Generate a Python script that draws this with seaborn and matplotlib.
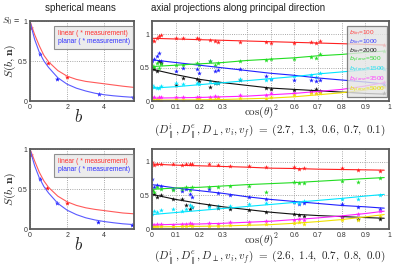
import matplotlib
matplotlib.use("Agg")
import matplotlib.pyplot as plt
from matplotlib.lines import Line2D
import seaborn as sns

sns.set_style("whitegrid", {"grid.linestyle": ":", "grid.color": "#8c8c8c",
                            "axes.edgecolor": "#5a5a5a"})
plt.rcParams['font.family'] = ['Liberation Sans', 'DejaVu Sans']
plt.rcParams['mathtext.fontset'] = 'cm'

# ---- spherical means (left panels) ----
b_curve = [0, 0.1, 0.25, 0.5, 0.75, 1, 1.5, 2, 2.5, 3, 3.5, 4, 4.5, 5, 5.6]
lin_curve_top = [1, 0.93, 0.83, 0.69, 0.57, 0.49, 0.38, 0.31, 0.27, 0.245, 0.23, 0.215, 0.2, 0.185, 0.17]
pla_curve_top = [1, 0.9, 0.77, 0.61, 0.5, 0.42, 0.29, 0.21, 0.16, 0.125, 0.097, 0.078, 0.065, 0.055, 0.045]
lin_curve_bot = [1, 0.94, 0.85, 0.71, 0.6, 0.52, 0.41, 0.34, 0.295, 0.265, 0.245, 0.23, 0.215, 0.2, 0.19]
pla_curve_bot = [1, 0.91, 0.79, 0.64, 0.53, 0.45, 0.32, 0.235, 0.18, 0.14, 0.113, 0.093, 0.078, 0.065, 0.055]

lin_b_top = [0.05, 0.97, 2.0]
lin_s_top = [0.91, 0.48, 0.305]
pla_b_top = [0.54, 1.48, 3.73, 5.53]
pla_s_top = [0.59, 0.28, 0.084, 0.046]
lin_b_bot = [0.05, 0.94, 1.97]
lin_s_bot = [0.93, 0.51, 0.33]
pla_b_bot = [0.54, 1.46, 3.66, 5.5]
pla_s_bot = [0.625, 0.32, 0.09, 0.05]

# ---- axial projections (right panels) ----
series_names = ['$b_{lin}$=100', '$b_{lin}$=1000', '$b_{lin}$=2000', '$b_{plane}$=500',
                '$b_{plane}$=1500', '$b_{plane}$=3500', '$b_{plane}$=5000']
series_colors = ['#ff2020', '#2020ff', '#111111', '#22dd22', '#00e5ff', '#ff20ff', '#f0e000']
legend_colors = ['#ff4040', '#4040ff', '#222222', '#33dd33', '#20e0f0', '#ff40ff', '#e8e000']

x_line = [0, 0.1, 0.2, 0.3, 0.4, 0.5, 0.6, 0.7, 0.8, 0.9, 0.98]
lines_top = [
    [0.94, 0.93, 0.92, 0.91, 0.9, 0.89, 0.88, 0.87, 0.86, 0.85, 0.84],
    [0.62, 0.58, 0.54, 0.5, 0.46, 0.42, 0.39, 0.35, 0.32, 0.29, 0.26],
    [0.48, 0.4, 0.33, 0.28, 0.24, 0.2, 0.18, 0.16, 0.14, 0.12, 0.11],
    [0.52, 0.54, 0.56, 0.58, 0.61, 0.63, 0.65, 0.68, 0.7, 0.73, 0.75],
    [0.2, 0.22, 0.25, 0.28, 0.31, 0.34, 0.37, 0.41, 0.44, 0.47, 0.5],
    [0.05, 0.055, 0.06, 0.07, 0.08, 0.1, 0.12, 0.15, 0.18, 0.23, 0.28],
    [0.02, 0.022, 0.025, 0.03, 0.04, 0.05, 0.07, 0.1, 0.13, 0.17, 0.22],
]
lines_bot = [
    [0.965, 0.95, 0.94, 0.93, 0.92, 0.905, 0.9, 0.89, 0.885, 0.88, 0.875],
    [0.66, 0.61, 0.57, 0.53, 0.48, 0.44, 0.41, 0.38, 0.35, 0.33, 0.31],
    [0.515, 0.44, 0.38, 0.33, 0.29, 0.25, 0.22, 0.2, 0.185, 0.17, 0.16],
    [0.59, 0.61, 0.62, 0.64, 0.66, 0.675, 0.69, 0.71, 0.73, 0.75, 0.765],
    [0.215, 0.245, 0.275, 0.305, 0.335, 0.365, 0.395, 0.425, 0.455, 0.49, 0.515],
    [0.06, 0.07, 0.075, 0.085, 0.1, 0.115, 0.14, 0.165, 0.195, 0.23, 0.265],
    [0.03, 0.035, 0.04, 0.045, 0.055, 0.065, 0.085, 0.11, 0.14, 0.18, 0.215],
]

x_pts_top = [0.0, 0.01, 0.02, 0.03, 0.04, 0.1, 0.13, 0.19, 0.2, 0.245,
             0.265, 0.28, 0.37, 0.48, 0.5, 0.6, 0.67, 0.69, 0.71, 0.98]
pts_top = [
    [0.92, 0.9, 0.95, 0.97, 0.99, 0.94, 0.95, 0.95, 0.93, 0.92, 0.9, 0.88, 0.89, 0.88, 0.865, 0.875, 0.89, 0.875, 0.9, 0.84],
    [0.6, 0.63, 0.67, 0.72, 0.6, 0.45, 0.5, 0.48, 0.42, 0.6, 0.45, 0.47, 0.48, 0.38, 0.33, 0.32, 0.32, 0.31, 0.32, 0.25],
    [0.52, 0.49, 0.45, 0.6, 0.57, 0.25, 0.35, 0.33, 0.3, 0.22, 0.28, 0.27, 0.32, 0.2, 0.18, 0.17, 0.16, 0.19, 0.15, 0.13],
    [0.55, 0.52, 0.58, 0.5, 0.56, 0.55, 0.55, 0.57, 0.55, 0.6, 0.55, 0.58, 0.6, 0.62, 0.63, 0.63, 0.66, 0.64, 0.7, 0.75],
    [0.25, 0.22, 0.2, 0.2, 0.23, 0.27, 0.26, 0.27, 0.26, 0.3, 0.27, 0.28, 0.33, 0.32, 0.34, 0.38, 0.4, 0.36, 0.42, 0.49],
    [0.07, 0.06, 0.04, 0.07, 0.06, 0.06, 0.07, 0.06, 0.07, 0.07, 0.08, 0.06, 0.09, 0.1, 0.12, 0.13, 0.14, 0.13, 0.16, 0.29],
    [0.03, 0.02, 0.03, 0.02, 0.01, 0.03, 0.02, 0.03, 0.04, 0.03, 0.03, 0.05, 0.05, 0.04, 0.07, 0.1, 0.12, 0.12, 0.12, 0.22],
]
x_pts_bot = [0.0, 0.01, 0.02, 0.04, 0.09, 0.125, 0.145, 0.16, 0.17, 0.24,
             0.28, 0.33, 0.41, 0.48, 0.6, 0.62, 0.64, 0.8, 0.87, 0.96]
pts_bot = [
    [0.99, 0.95, 0.97, 0.96, 0.96, 0.95, 0.96, 0.97, 0.96, 0.96, 0.95, 0.94, 0.94, 0.92, 0.92, 0.89, 0.91, 0.9, 0.88, 0.87],
    [0.75, 0.63, 0.65, 0.64, 0.6, 0.57, 0.6, 0.52, 0.48, 0.6, 0.54, 0.5, 0.47, 0.45, 0.4, 0.37, 0.38, 0.37, 0.33, 0.3],
    [0.58, 0.52, 0.48, 0.5, 0.45, 0.45, 0.35, 0.3, 0.32, 0.35, 0.31, 0.3, 0.28, 0.25, 0.22, 0.21, 0.2, 0.18, 0.15, 0.15],
    [0.58, 0.55, 0.62, 0.6, 0.58, 0.6, 0.62, 0.58, 0.62, 0.62, 0.63, 0.64, 0.64, 0.55, 0.7, 0.68, 0.69, 0.72, 0.7, 0.76],
    [0.22, 0.27, 0.26, 0.28, 0.3, 0.27, 0.3, 0.35, 0.32, 0.33, 0.34, 0.34, 0.37, 0.39, 0.4, 0.38, 0.42, 0.45, 0.44, 0.5],
    [0.07, 0.06, 0.08, 0.07, 0.06, 0.07, 0.08, 0.09, 0.08, 0.09, 0.08, 0.1, 0.11, 0.12, 0.14, 0.15, 0.14, 0.18, 0.22, 0.27],
    [0.03, 0.04, 0.05, 0.04, 0.03, 0.04, 0.05, 0.06, 0.04, 0.05, 0.04, 0.06, 0.07, 0.07, 0.09, 0.1, 0.08, 0.14, 0.13, 0.2],
]

W, H = 400, 267
fig = plt.figure(figsize=(4, 2.67), dpi=100)


def px_axes(x0, y0, x1, y1):
    return fig.add_axes([x0 / W, 1 - y1 / H, (x1 - x0) / W, (y1 - y0) / H])


def ftext(x, y, s, **kw):
    fig.text(x / W, 1 - y / H, s, **kw)


def style_axes(ax):
    ax.set_facecolor('white')
    for sp in ax.spines.values():
        sp.set_linewidth(1.3)
        sp.set_color('#5a5a5a')
    ax.tick_params(direction='in', length=2, width=0.5, labelsize=5,
                   labelcolor='#333333', pad=2)
    ax.grid(True, linestyle=':', linewidth=0.6, color='#8c8c8c')
    ax.set_xlabel('')
    ax.set_ylabel('')


def spherical(ax, lc, pc, lb, ls, pb, ps):
    sns.lineplot(x=b_curve, y=lc, color='#ff5a5a', lw=0.8, ax=ax)
    sns.lineplot(x=b_curve, y=pc, color='#5a5aff', lw=0.8, ax=ax)
    sns.scatterplot(x=lb, y=ls, color='#ff1010', marker='*', s=14, linewidth=0, ax=ax)
    sns.scatterplot(x=pb, y=ps, color='#1010ff', marker='*', s=14, linewidth=0, ax=ax)
    ax.set_xlim(0, 5.6)
    ax.set_ylim(0, 1)
    ax.set_xticks([0, 2, 4])
    ax.set_xticklabels(['0', '2', '4'])
    ax.set_yticks([0, 0.5, 1])
    ax.set_yticklabels(['0', '0.5', '1'])
    style_axes(ax)
    handles = [Line2D([], [], lw=0), Line2D([], [], lw=0)]
    leg = ax.legend(handles, ['linear ( * measurement)', 'planar ( * measurement)'],
                    loc='upper left', bbox_to_anchor=(0.2, 0.975), fontsize=4.8,
                    handlelength=0, handletextpad=0, labelcolor=['#ff3030', '#3030ff'],
                    frameon=True, fancybox=False, borderpad=0.55, labelspacing=0.2)
    leg.get_frame().set_facecolor('#e8e8e8')
    leg.get_frame().set_edgecolor('#777777')
    leg.get_frame().set_linewidth(0.8)
    ax.text(0.47, -0.2, '$b$', transform=ax.transAxes, fontsize=12, ha='center', va='center')
    ax.text(-0.19, 0.5, r'$S(b,\mathbf{n})$', transform=ax.transAxes, fontsize=8.5,
            rotation=90, ha='center', va='center')


def axial(ax, lines, xp, pts, legend):
    for yl, yp, col in zip(lines, pts, series_colors):
        sns.lineplot(x=x_line, y=yl, color=col, lw=0.8, ax=ax)
        sns.scatterplot(x=xp, y=yp, color=col, marker='*', s=13, linewidth=0, ax=ax)
    ax.set_xlim(0, 1)
    ax.set_ylim(0, 1.19)
    ticks = [0, 0.1, 0.2, 0.3, 0.4, 0.5, 0.6, 0.7, 0.8, 0.9, 1]
    ax.set_xticks(ticks)
    ax.set_xticklabels(['0', '0.1', '0.2', '0.3', '', '', '0.6', '0.7', '0.8', '0.9', '1'])
    ax.set_yticks([0, 0.5, 1])
    ax.set_yticklabels(['0', '0.5', '1'])
    style_axes(ax)
    ax.text(0.46, -0.13, r'$\cos(\theta)^2$', transform=ax.transAxes, fontsize=8,
            ha='center', va='center')
    if legend:
        handles = [Line2D([], [], lw=0) for _ in series_names]
        leg = ax.legend(handles, series_names, loc='upper left', bbox_to_anchor=(0.81, 0.985),
                        prop={'size': 4.6, 'math_fontfamily': 'dejavusans'},
                        handlelength=0, handletextpad=0, labelcolor=legend_colors,
                        frameon=True, fancybox=False, borderpad=0.3, labelspacing=0.0)
        leg.get_frame().set_facecolor('#e4e4e4')
        leg.get_frame().set_edgecolor('#666666')
        leg.get_frame().set_linewidth(0.9)


ax_tl = px_axes(30, 21, 134, 101)
spherical(ax_tl, lin_curve_top, pla_curve_top, lin_b_top, lin_s_top, pla_b_top, pla_s_top)
ax_tr = px_axes(152, 21.5, 389, 101.5)
axial(ax_tr, lines_top, x_pts_top, pts_top, True)
ax_bl = px_axes(30, 149, 134, 229)
spherical(ax_bl, lin_curve_bot, pla_curve_bot, lin_b_bot, lin_s_bot, pla_b_bot, pla_s_bot)
ax_br = px_axes(152, 149, 389, 229)
axial(ax_br, lines_bot, x_pts_bot, pts_bot, False)

ftext(80, 8, 'spherical means', fontsize=7, ha='center', va='center', color='#222222')
ftext(238, 8, 'axial projections along principal direction', fontsize=7,
      ha='center', va='center', color='#222222')
ftext(11, 21, '$S_0$ =', fontsize=6.5, ha='center', va='center')
ftext(270, 132, r'$(D_{\parallel}^{i}, D_{\parallel}^{e}, D_{\perp}, v_i, v_f)\ =\ (2.7,\ 1.3,\ 0.6,\ 0.7,\ 0.1)$',
      fontsize=8, ha='center', va='center')
ftext(270, 258, r'$(D_{\parallel}^{i}, D_{\parallel}^{e}, D_{\perp}, v_i, v_f)\ =\ (2.6,\ 1.4,\ 0.7,\ 0.8,\ 0.0)$',
      fontsize=8, ha='center', va='center')

fig.savefig('out.png', dpi=100, facecolor='white')
